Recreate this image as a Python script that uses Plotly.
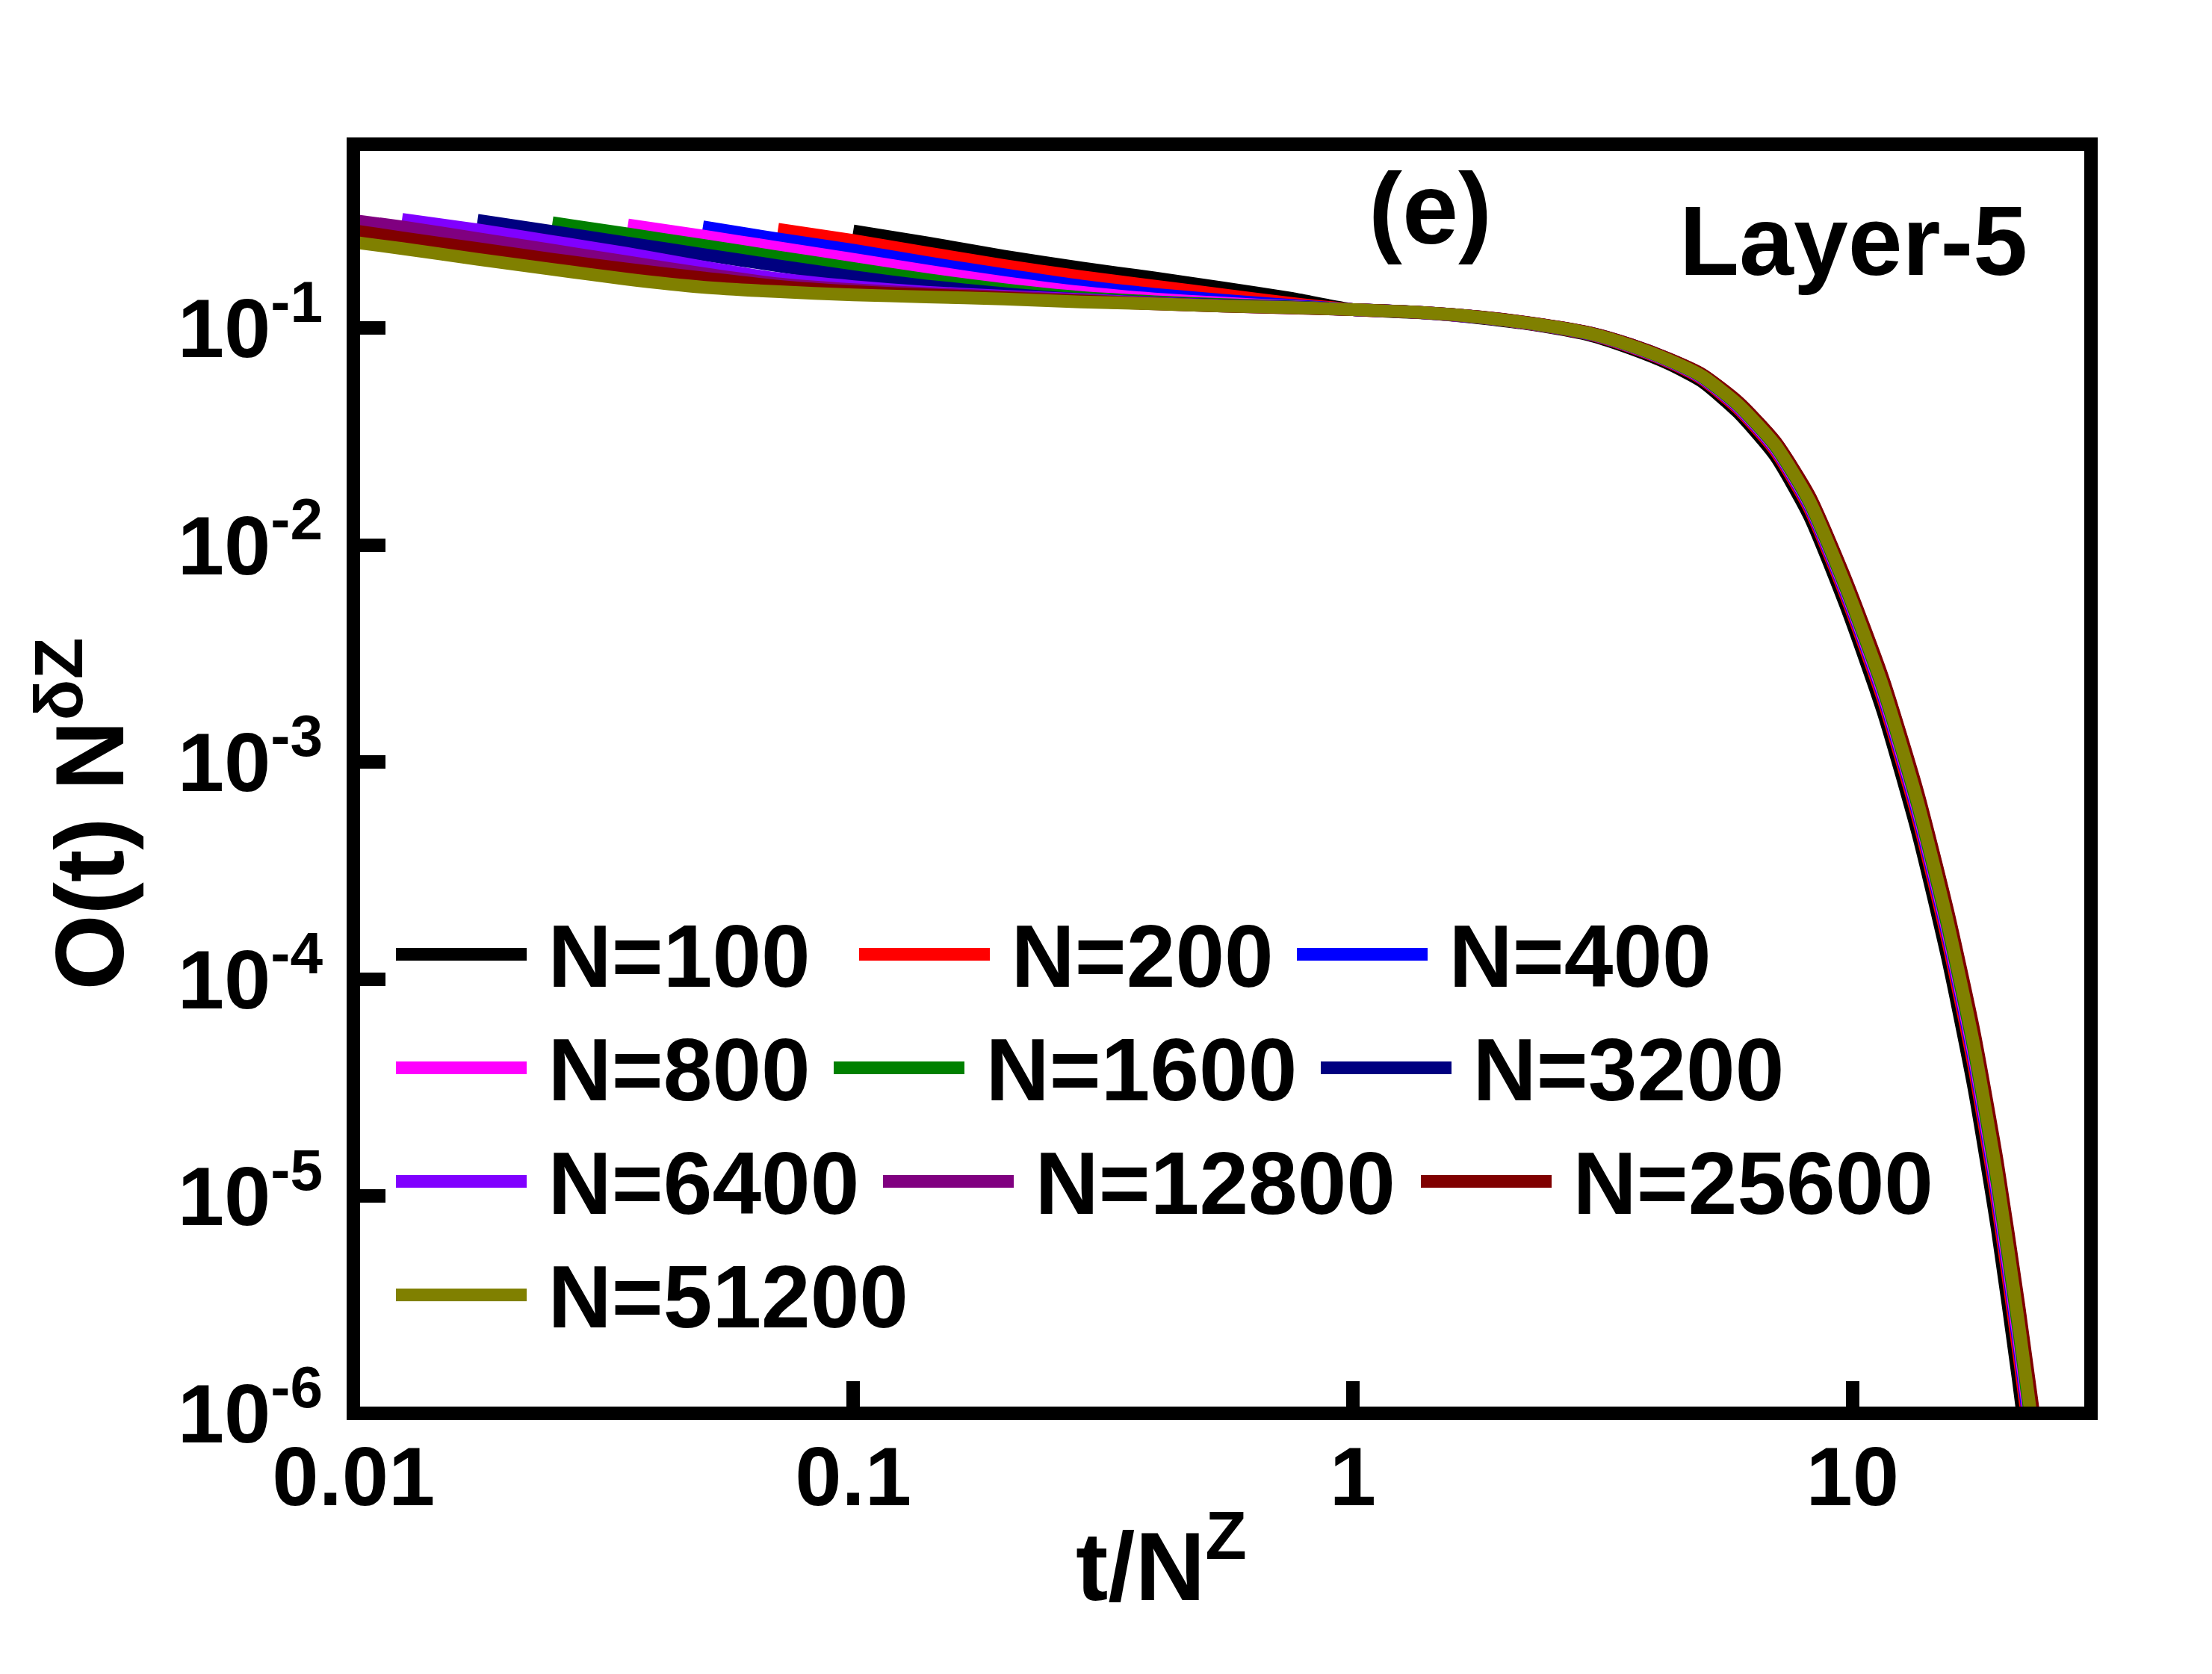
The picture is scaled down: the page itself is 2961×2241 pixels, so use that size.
import plotly.graph_objects as go

# ---------------- data ----------------
N_LABELS = ["N=100", "N=200", "N=400", "N=800", "N=1600",
            "N=3200", "N=6400", "N=12800", "N=25600", "N=51200"]
COLORS = ["#000000", "#FF0000", "#0000FF", "#FF00FF", "#008000",
          "#000080", "#8000FF", "#800080", "#800000", "#808000"]

# early part of each curve (x = t/N^z, y = O(t) N^{delta z})
x_head_100 = [0.1, 0.14, 0.2, 0.286, 0.4, 0.55, 0.75, 1.0]
y_head_100 = [0.280, 0.247, 0.214, 0.189, 0.170, 0.153, 0.137, 0.1215]
x_head_200 = [0.0707, 0.1, 0.14, 0.2, 0.286, 0.4, 0.55, 0.75, 1.0]
y_head_200 = [0.285, 0.253, 0.222, 0.194, 0.172, 0.156, 0.142, 0.130, 0.1215]
x_head_400 = [0.05, 0.07, 0.1, 0.14, 0.2, 0.286, 0.4, 0.55, 0.75, 1.0]
y_head_400 = [0.292, 0.258, 0.228, 0.200, 0.176, 0.156, 0.143, 0.134, 0.127, 0.1215]
x_head_800 = [0.0354, 0.05, 0.07, 0.1, 0.14, 0.2, 0.286, 0.4, 0.55, 0.75, 1.0]
y_head_800 = [0.298, 0.265, 0.235, 0.207, 0.183, 0.162, 0.146, 0.136, 0.130, 0.1255, 0.1215]
x_head_1600 = [0.025, 0.035, 0.05, 0.07, 0.1, 0.14, 0.2, 0.286, 0.4, 0.55, 0.75, 1.0]
y_head_1600 = [0.305, 0.272, 0.240, 0.213, 0.188, 0.167, 0.150, 0.138, 0.132, 0.128, 0.125, 0.1215]
x_head_3200 = [0.0177, 0.025, 0.035, 0.05, 0.07, 0.1, 0.14, 0.2, 0.286, 0.4, 0.55, 0.75, 1.0]
y_head_3200 = [0.313, 0.278, 0.247, 0.218, 0.194, 0.172, 0.156, 0.144, 0.135, 0.1305, 0.127, 0.1245, 0.1215]
x_head_6400 = [0.0125, 0.0177, 0.025, 0.035, 0.05, 0.07, 0.1, 0.14, 0.2, 0.286, 0.4, 0.55, 0.75, 1.0]
y_head_6400 = [0.316, 0.283, 0.250, 0.221, 0.191, 0.169, 0.155, 0.146, 0.140, 0.135, 0.130, 0.1265, 0.124, 0.1215]
x_head_12800 = [0.00884, 0.0125, 0.0177, 0.025, 0.035, 0.05, 0.07, 0.1, 0.14, 0.2, 0.286, 0.4, 0.55, 0.75, 1.0]
y_head_12800 = [0.325, 0.292, 0.258, 0.228, 0.202, 0.178, 0.160, 0.150, 0.144, 0.139, 0.134, 0.1295, 0.126, 0.1238, 0.1215]
x_head_25600 = [0.00625, 0.00884, 0.0125, 0.0177, 0.025, 0.035, 0.05, 0.07, 0.1, 0.14, 0.2, 0.286, 0.4, 0.55, 0.75, 1.0]
y_head_25600 = [0.331, 0.293, 0.260, 0.232, 0.207, 0.187, 0.170, 0.156, 0.147, 0.142, 0.1375, 0.133, 0.129, 0.126, 0.1237, 0.1215]
x_head_51200 = [0.00442, 0.00625, 0.00884, 0.0125, 0.0177, 0.025, 0.035, 0.05, 0.07, 0.1, 0.14, 0.2, 0.286, 0.4, 0.55, 0.75, 1.0]
y_head_51200 = [0.322, 0.288, 0.258, 0.232, 0.207, 0.186, 0.168, 0.154, 0.147, 0.142, 0.139, 0.136, 0.1316, 0.129, 0.126, 0.124, 0.1215]

# common decay part (x > 1)
x_tail = [1.35, 1.8, 2.4, 3.0, 3.6, 4.3, 5.0, 5.9, 7.0, 8.2, 9.7, 11.5, 13.5, 15.5, 17.5, 19.5, 21.5, 23.5]
y_tail_100 = [0.1175, 0.1111, 0.1018, 0.0922, 0.0804, 0.0682, 0.0566, 0.0408, 0.0258, 0.0136, 0.00525, 0.00172, 4.75e-4, 1.25e-4, 3.15e-5, 7.0e-6, 1.40e-6, 2.8e-7]
y_tail_200 = [0.1178, 0.1116, 0.1024, 0.0931, 0.0817, 0.0696, 0.0583, 0.0426, 0.0273, 0.01475, 0.00583, 0.00196, 5.58e-4, 1.51e-4, 3.96e-5, 9.2e-6, 1.91e-6, 4.0e-7]
y_tail_400 = [0.1179, 0.1117, 0.1026, 0.0934, 0.0822, 0.0701, 0.0589, 0.0433, 0.0279, 0.01517, 0.00603, 0.00205, 5.89e-4, 1.61e-4, 4.27e-5, 1.0e-5, 2.12e-6, 4.5e-7]
y_tail_800 = [0.1179, 0.1118, 0.1027, 0.0936, 0.0824, 0.0704, 0.0592, 0.0437, 0.0282, 0.01544, 0.00617, 0.00211, 6.11e-4, 1.68e-4, 4.49e-5, 1.06e-5, 2.27e-6, 4.9e-7]
y_tail_1600 = [0.1179, 0.1119, 0.1028, 0.0938, 0.0827, 0.0707, 0.0596, 0.0441, 0.0286, 0.01571, 0.00631, 0.00218, 6.33e-4, 1.75e-4, 4.73e-5, 1.13e-5, 2.44e-6, 5.3e-7]
y_tail_3200 = [0.1181, 0.1122, 0.1033, 0.0945, 0.0837, 0.0718, 0.0610, 0.0456, 0.0300, 0.01674, 0.00684, 0.00241, 7.18e-4, 2.04e-4, 5.64e-5, 1.39e-5, 3.10e-6, 6.9e-7]
y_tail_6400 = [0.1181, 0.1122, 0.1033, 0.0944, 0.0836, 0.0716, 0.0608, 0.0453, 0.0298, 0.01659, 0.00676, 0.00237, 7.05e-4, 1.99e-4, 5.50e-5, 1.35e-5, 3.0e-6, 6.7e-7]
y_tail_12800 = [0.1180, 0.1121, 0.1032, 0.0943, 0.0834, 0.0715, 0.0606, 0.0452, 0.0296, 0.01643, 0.00669, 0.00234, 6.92e-4, 1.95e-4, 5.36e-5, 1.31e-5, 2.89e-6, 6.4e-7]
y_tail_25600 = [0.1181, 0.1123, 0.1034, 0.0946, 0.0838, 0.0719, 0.0612, 0.0458, 0.0301, 0.01688, 0.00693, 0.00244, 7.31e-4, 2.08e-4, 5.79e-5, 1.44e-5, 3.21e-6, 7.2e-7]
y_tail_51200 = [0.118, 0.112, 0.103, 0.094, 0.083, 0.071, 0.060, 0.0445, 0.029, 0.016, 0.00646, 0.00224, 6.56e-4, 1.83e-4, 4.97e-5, 1.20e-5, 2.61e-6, 5.7e-7]

X_TICKVALS = [0.01, 0.1, 1, 10]
X_TICKTEXT = ["0.01", "0.1", "1", "10"]
Y_TICKVALS = [1e-6, 1e-5, 1e-4, 1e-3, 1e-2, 1e-1]
Y_TICKTEXT = ["10<sup>-6</sup>", "10<sup>-5</sup>", "10<sup>-4</sup>",
              "10<sup>-3</sup>", "10<sup>-2</sup>", "10<sup>-1</sup>"]

heads_x = [x_head_100, x_head_200, x_head_400, x_head_800, x_head_1600,
           x_head_3200, x_head_6400, x_head_12800, x_head_25600, x_head_51200]
heads_y = [y_head_100, y_head_200, y_head_400, y_head_800, y_head_1600,
           y_head_3200, y_head_6400, y_head_12800, y_head_25600, y_head_51200]
tails_y = [y_tail_100, y_tail_200, y_tail_400, y_tail_800, y_tail_1600,
           y_tail_3200, y_tail_6400, y_tail_12800, y_tail_25600, y_tail_51200]

# ---------------- layout geometry (pixels of the 2961x2241 page) ----------------
W, H = 2961, 2241
L, R, T, B = 465, 2791, 185, 1884
PW, PH = R - L, B - T
FONT = "Liberation Sans, Arial, Helvetica, sans-serif"


def px_x(p):
    return (p - L) / PW


def px_y(p):
    return (B - p) / PH


# legend entry positions (line start x, text centre y)
LEG_X = [522, 1142, 1728, 522, 1108, 1760, 522, 1174, 1894, 522]
LEG_Y = [1273, 1273, 1273, 1425, 1425, 1425, 1577, 1577, 1577, 1729]
LEG_LINE_W = 175

fig = go.Figure()
for i in range(len(N_LABELS)):
    lg = "legend" if i == 0 else f"legend{i + 1}"
    fig.add_trace(go.Scatter(
        x=heads_x[i] + x_tail, y=heads_y[i] + tails_y[i],
        mode="lines", name="\u2009" + N_LABELS[i],
        line=dict(color=COLORS[i], width=17, shape="spline", smoothing=0.6),
        legend=lg, showlegend=True, hoverinfo="skip",
    ))

layout_legends = {}
for i in range(len(N_LABELS)):
    key = "legend" if i == 0 else f"legend{i + 1}"
    layout_legends[key] = dict(
        x=px_x(LEG_X[i] - 5), y=px_y(LEG_Y[i] - 6),
        xanchor="left", yanchor="middle", orientation="h",
        font=dict(family=FONT, size=118, color="black", weight="bold"),
        itemwidth=LEG_LINE_W, bgcolor="rgba(0,0,0,0)", borderwidth=0,
        itemclick=False, itemdoubleclick=False,
    )

fig.update_layout(
    width=W, height=H,
    margin=dict(l=L, r=W - R, t=T, b=H - B, pad=0, autoexpand=False),
    paper_bgcolor="white", plot_bgcolor="white",
    showlegend=True,
    **layout_legends,
)

axis_common = dict(
    showgrid=False, zeroline=False, showline=False,
    ticks="inside", ticklen=43, tickwidth=18, tickcolor="black",
    tickfont=dict(family=FONT, size=112, color="black", weight="bold"),
)
fig.update_xaxes(type="log", range=[-2.0005, 1.4774],
                 tickvals=X_TICKVALS, ticktext=X_TICKTEXT,
                 ticklabelstandoff=10, **axis_common)
fig.update_yaxes(type="log", range=[-6.0005, -0.1535],
                 tickvals=Y_TICKVALS, ticktext=Y_TICKTEXT,
                 ticklabelstandoff=40, **axis_common)

# frame
fig.add_shape(type="rect", xref="paper", yref="paper", x0=0, x1=1, y0=0, y1=1,
              line=dict(color="black", width=18), fillcolor="rgba(0,0,0,0)",
              layer="above")

# thicker legend sample strokes laid over the (width-capped) legend lines
for i in range(len(N_LABELS)):
    yl = px_y(LEG_Y[i] - 3.5)
    fig.add_shape(type="line", xref="paper", yref="paper",
                  x0=px_x(LEG_X[i]), x1=px_x(LEG_X[i] + LEG_LINE_W),
                  y0=yl, y1=yl, line=dict(color=COLORS[i], width=17),
                  layer="above")

bold = dict(family=FONT, color="black", weight="bold")
fig.add_annotation(text="(e)", xref="paper", yref="paper",
                   x=px_x(1822), y=px_y(272), xanchor="left", yanchor="middle",
                   showarrow=False, font=dict(size=135, **bold))
fig.add_annotation(text="Layer-5", xref="paper", yref="paper",
                   x=px_x(2238), y=px_y(314), xanchor="left", yanchor="middle",
                   showarrow=False, font=dict(size=131, **bold))
fig.add_annotation(text="t/N<sup>Z</sup>", xref="paper", yref="paper",
                   x=px_x(1430), y=px_y(2164), xanchor="left", yanchor="bottom",
                   showarrow=False, font=dict(size=130, **bold))
fig.add_annotation(text="O(t) N<sup>δZ</sup>", xref="paper", yref="paper",
                   x=px_x(187), y=px_y(1320), xanchor="right", yanchor="bottom",
                   textangle=-90, showarrow=False, font=dict(size=130, **bold))

fig.write_html("out.html")
